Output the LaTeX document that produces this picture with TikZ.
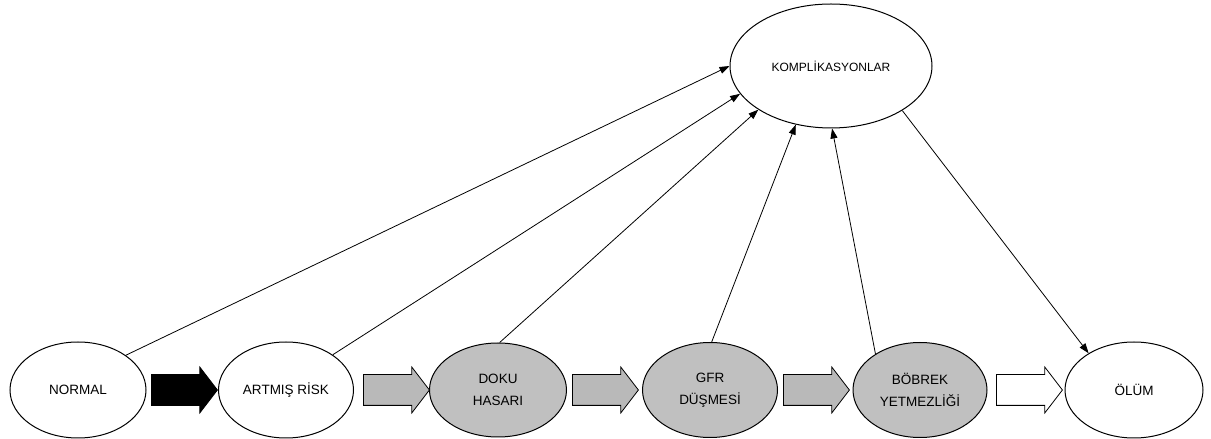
\documentclass[tikz,border=0pt]{standalone}
\usepackage{fontspec}
\setmainfont{Liberation Sans}
\usetikzlibrary{shapes.geometric,shapes.arrows,arrows.meta}
\definecolor{stagegray}{RGB}{192,192,192}
\definecolor{flowgray}{RGB}{185,185,185}
\begin{document}
\begin{tikzpicture}[x=1pt,y=1pt,
  stage/.style={ellipse,draw=black,line width=1pt,inner sep=0pt,
    minimum width=136pt,minimum height=96pt,align=center,
    font=\fontsize{13.5}{22}\selectfont},
  sick/.style={stage,fill=stagegray},
  flow/.style={single arrow,draw=black,line width=0.8pt,inner xsep=0pt,
    inner ysep=15pt,text height=0pt,text depth=0pt,
    single arrow head extend=7.5pt,single arrow tip angle=105,
    minimum height=66pt,anchor=tail},
  link/.style={draw=black,line width=0.8pt,
    -{Triangle[length=10pt,width=7pt]}}]
\useasboundingbox (0,0) rectangle (1211,439);
\fill[white] (0,0) rectangle (1211,439);

% outcome at the top
\node[stage,minimum width=202pt,minimum height=124pt,
  font=\fontsize{12}{14}\selectfont] (komp) at (831,373) {KOMPLİKASYONLAR};

% progression stages
\node[stage] (normal) at (78,49) {NORMAL};
\node[stage,minimum width=135pt] (risk) at (286,49) {ARTMIŞ RİSK};
\node[sick,minimum width=137pt,minimum height=94pt] (doku) at (498,49) {DOKU\\HASARI};
\node[sick,minimum width=135pt,minimum height=95pt] (gfr) at (710,49) {GFR\\DÜŞMESİ};
\node[sick,minimum width=134pt,minimum height=95pt] (bobrek) at (920,49) {BÖBREK\\YETMEZLİĞİ};
\node[stage,minimum width=138pt] (olum) at (1134,49) {ÖLÜM};

% block arrows between stages
\node[flow,fill=black] (f1) at (151,49) {};
\node[flow,fill=flowgray] (f2) at (363,49) {};
\node[flow,fill=flowgray] (f3) at (572,49) {};
\node[flow,fill=flowgray] (f4) at (783,49) {};
\node[flow,fill=white] (f5) at (996,49) {};

% links to complications
\draw[link] (normal.36.5) -- (komp.180);
\draw[link] (risk.37) -- (komp.197.7);
\draw[link] (doku.88) -- (komp.211.8);
\draw[link] (gfr.88) -- (komp.239);
\draw[link] (bobrek.141) -- (komp.271);
\draw[link] (komp.328) -- (olum.141);
\end{tikzpicture}
\end{document}
